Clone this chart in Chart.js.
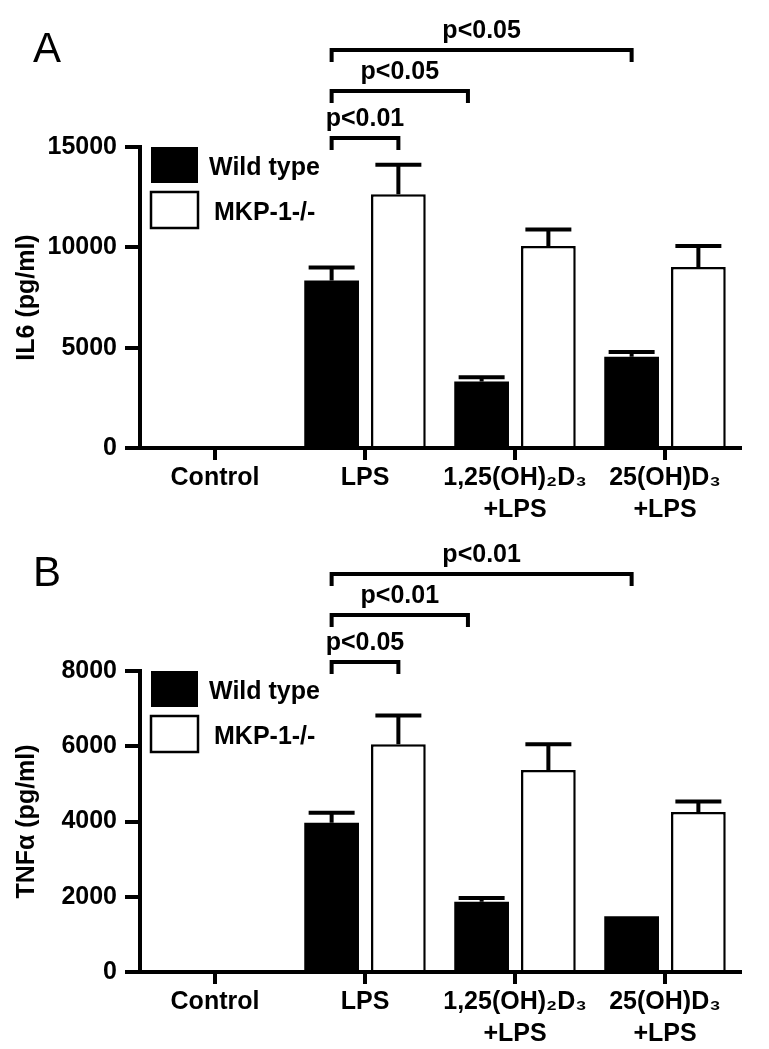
<!DOCTYPE html>
<html>
<head>
<meta charset="utf-8">
<script src="https://cdn.jsdelivr.net/npm/chart.js@4.4.1/dist/chart.umd.min.js"></script>
<style>
  body { margin: 0; background: #fff; }
  .panel { position: absolute; left: 0; width: 769px; height: 525px; }
</style>
</head>
<body>
<div class="panel" style="top:0"><canvas id="chartA" width="769" height="525"></canvas></div>
<div class="panel" style="top:524px"><canvas id="chartB" width="769" height="525"></canvas></div>
<script>
// ---- data ----
const categories = ['Control', 'LPS', ['1,25(OH)₂D₃', '+LPS'], ['25(OH)D₃', '+LPS']];
const seriesNames = ['Wild type', 'MKP-1-/-'];

// panel A : IL6
const il6Wild = [0, 8350, 3320, 4550];
const il6WildErr = [0, 650, 200, 230];
const il6Mkp = [0, 12650, 10070, 9020];
const il6MkpErr = [0, 1470, 820, 1050];
const il6Ticks = [0, 5000, 10000, 15000];
const il6Pvals = ['p<0.01', 'p<0.05', 'p<0.05'];

// panel B : TNFa
const tnfWild = [0, 3970, 1870, 1480];
const tnfWildErr = [0, 260, 100, 0];
const tnfMkp = [0, 6050, 5370, 4250];
const tnfMkpErr = [0, 770, 680, 280];
const tnfTicks = [0, 2000, 4000, 6000, 8000];
const tnfPvals = ['p<0.05', 'p<0.01', 'p<0.01'];

// comparisons: LPS wild type vs [category, series]
const compareTo = [[1, 1], [2, 0], [3, 0]];

// ---- style ----
const FONT = "'Liberation Sans', Arial, Helvetica, sans-serif";
const bracketLift = [9, 56, 97];
const bracketShift = [0, -0.25, 0];

const extras = {
  id: 'extras',
  afterDatasetsDraw(chart, args, opts) {
    const ctx = chart.ctx;
    const y = chart.scales.y;
    const area = chart.chartArea;
    ctx.save();
    ctx.strokeStyle = '#000';
    ctx.fillStyle = '#000';
    ctx.lineWidth = 4;
    ctx.lineJoin = 'miter';

    // error bars, upper half only
    opts.errors.forEach((errs, di) => {
      const meta = chart.getDatasetMeta(di);
      const vals = chart.data.datasets[di].data;
      meta.data.forEach((bar, i) => {
        if (!errs[i]) return;
        const top = y.getPixelForValue(vals[i] + errs[i]);
        const half = bar.width * 0.42;
        ctx.beginPath();
        ctx.moveTo(bar.x, bar.y);
        ctx.lineTo(bar.x, top);
        ctx.moveTo(bar.x - half, top);
        ctx.lineTo(bar.x + half, top);
        ctx.stroke();
      });
    });

    // significance brackets
    ctx.font = 'bold 25px ' + FONT;
    ctx.textAlign = 'center';
    ctx.textBaseline = 'middle';
    const from = chart.getDatasetMeta(0).data[1];
    compareTo.forEach(([cat, ds], k) => {
      const to = chart.getDatasetMeta(ds).data[cat];
      const x1 = from.x;
      const x2 = to.x + to.width * bracketShift[k];
      const yy = area.top - bracketLift[k];
      ctx.beginPath();
      ctx.moveTo(x1, yy + 12);
      ctx.lineTo(x1, yy);
      ctx.lineTo(x2, yy);
      ctx.lineTo(x2, yy + 12);
      ctx.stroke();
      ctx.fillText(opts.pvals[k], (x1 + x2) / 2, yy - 19);
    });

    // legend
    const lx = area.left + 11;
    ctx.textAlign = 'left';
    chart.data.datasets.forEach((ds, i) => {
      const by = area.top + i * 45;
      ctx.fillStyle = ds.backgroundColor;
      ctx.fillRect(lx, by, 47, 36);
      if (ds.borderWidth) {
        ctx.lineWidth = 2.5;
        ctx.strokeRect(lx, by, 47, 36);
      }
      ctx.fillStyle = '#000';
      ctx.fillText(ds.label, lx + 58 + i * 5, by + 21);
    });

    // panel letter
    ctx.font = '42px ' + FONT;
    ctx.textBaseline = 'alphabetic';
    ctx.fillText(opts.letter, 33, 62);
    ctx.restore();
  }
};

function makeChart(id, letter, title, wild, wildErr, mkp, mkpErr, ticks, pvals) {
  return new Chart(document.getElementById(id), {
    type: 'bar',
    data: {
      labels: categories,
      datasets: [
        { label: seriesNames[0], data: wild, backgroundColor: '#000', borderWidth: 0 },
        { label: seriesNames[1], data: mkp, backgroundColor: '#fff', borderColor: '#000',
          borderWidth: 2.5, borderSkipped: 'bottom' }
      ]
    },
    options: {
      responsive: false,
      animation: false,
      devicePixelRatio: 1,
      categoryPercentage: 0.89,
      barPercentage: 0.82,
      layout: { padding: { top: 147, right: 29, left: 0, bottom: 0 } },
      plugins: {
        legend: { display: false },
        tooltip: { enabled: false },
        extras: { letter: letter, pvals: pvals, errors: [wildErr, mkpErr] }
      },
      scales: {
        x: {
          afterFit: s => { s.height = 77; },
          border: { display: true, width: 4, color: '#000' },
          grid: { display: true, drawOnChartArea: false, offset: false,
                  tickLength: 12, lineWidth: 4, color: '#000' },
          ticks: { color: '#000', padding: 2, maxRotation: 0, autoSkip: false,
                   font: { family: FONT, size: 25, weight: 'bold', lineHeight: 1.28 } }
        },
        y: {
          min: ticks[0],
          max: ticks[ticks.length - 1],
          afterFit: s => { s.width = 140; },
          afterBuildTicks: s => { s.ticks = ticks.map(v => ({ value: v })); },
          border: { display: true, width: 4, color: '#000' },
          grid: { display: true, drawOnChartArea: false, tickLength: 15, lineWidth: 4, color: '#000' },
          ticks: { color: '#000', padding: 8, callback: v => String(v),
                   font: { family: FONT, size: 25, weight: 'bold' } },
          title: { display: true, text: title, color: '#000', padding: { top: 12, bottom: 0 },
                   font: { family: FONT, size: 25, weight: 'bold', lineHeight: 1.2 } }
        }
      }
    },
    plugins: [extras]
  });
}

makeChart('chartA', 'A', 'IL6 (pg/ml)', il6Wild, il6WildErr, il6Mkp, il6MkpErr, il6Ticks, il6Pvals);
makeChart('chartB', 'B', 'TNFα (pg/ml)', tnfWild, tnfWildErr, tnfMkp, tnfMkpErr, tnfTicks, tnfPvals);
</script>
</body>
</html>
